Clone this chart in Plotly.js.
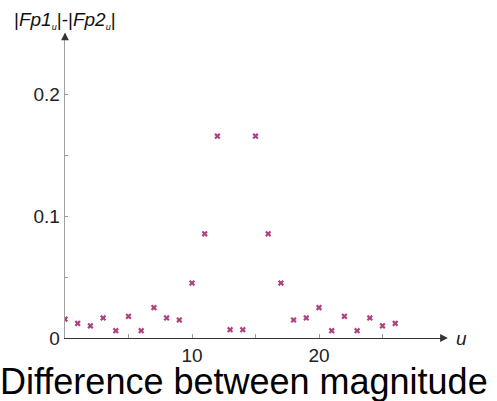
<!DOCTYPE html>
<html>
<head>
<meta charset="utf-8">
<script src="https://cdn.plot.ly/plotly-3.0.1.min.js"></script>
<style>html,body{margin:0;padding:0;background:#fff;}#chart{width:497px;height:401px;}</style>
</head>
<body>
<div id="chart"></div>
<script>
const uValues = [0,1,2,3,4,5,6,7,8,9,10,11,12,13,14,15,16,17,18,19,20,21,22,23,24,25,26];
const diffValues = [0.0155,0.0120,0.0100,0.0165,0.0060,0.0178,0.0060,0.0250,0.0165,0.0148,0.0452,0.0857,0.1660,0.0068,0.0068,0.1660,0.0857,0.0452,0.0148,0.0165,0.0250,0.0060,0.0178,0.0060,0.0165,0.0100,0.0120];
const xTickVals = [5,10,15,20,25];
const xTickText = ['','10','','20',''];
const yTickVals = [0,0.05,0.1,0.15,0.2];
const yTickText = ['0','','0.1','','0.2'];

const font = 'Liberation Sans, Arial, sans-serif';
const trace = {
  x: uValues, y: diffValues, type: 'scatter', mode: 'markers',
  marker: {symbol: 'x', size: 5.5, color: '#b0407f', line: {width: 0}},
  hoverinfo: 'skip'
};
const layout = {
  width: 497, height: 401,
  margin: {l: 65, r: 51, t: 34, b: 63},
  paper_bgcolor: '#fff', plot_bgcolor: '#fff',
  showlegend: false,
  font: {family: font, size: 19, color: '#222'},
  title: {text: 'Difference between magnitude', font: {family: font, size: 36, color: '#000'},
          xref: 'container', x: 0, xanchor: 'left', yref: 'container', y: 0.05, yanchor: 'middle', pad: {l: 0, r: 0, t: 0, b: 0}},
  xaxis: {range: [0, 30], showgrid: false, zeroline: false, showline: true, linecolor: '#333', linewidth: 1.3,
          tickmode: 'array', tickvals: xTickVals, ticktext: xTickText, ticks: 'inside', ticklen: 4, tickcolor: '#999',
          tickfont: {size: 19, color: '#222'}},
  yaxis: {range: [0, 0.25], showgrid: false, zeroline: false, showline: true, linecolor: '#a0a0a0', linewidth: 1.3,
          tickmode: 'array', tickvals: yTickVals, ticktext: yTickText, ticks: 'inside', ticklen: 3, tickcolor: '#999',
          tickfont: {size: 19, color: '#222'}},
  annotations: [
    {xref: 'paper', yref: 'paper', x: 1.005, y: 0, ax: -8, ay: 0, text: '', showarrow: true, arrowhead: 2, arrowsize: 1.2, arrowwidth: 1.3, arrowcolor: '#333'},
    {xref: 'paper', yref: 'paper', x: 0, y: 1.005, ax: 0, ay: 8, text: '', showarrow: true, arrowhead: 2, arrowsize: 1.2, arrowwidth: 1.3, arrowcolor: '#333'},
    {xref: 'paper', yref: 'paper', x: 1.02, y: 0, xanchor: 'left', yanchor: 'middle', text: '<i>u</i>', showarrow: false, font: {size: 19, color: '#222'}},
    {xref: 'paper', yref: 'paper', x: -0.14, y: 1.045, xanchor: 'left', yanchor: 'middle', showarrow: false,
     text: '|<i>Fp1</i><sub><i><span style="font-size:9px">u</span></i></sub>|-|<i>Fp2</i><sub><i><span style="font-size:9px">u</span></i></sub>|', font: {size: 19, color: '#111'}}
  ]
};
Plotly.newPlot('chart', [trace], layout, {staticPlot: true, displayModeBar: false});
</script>
</body>
</html>
